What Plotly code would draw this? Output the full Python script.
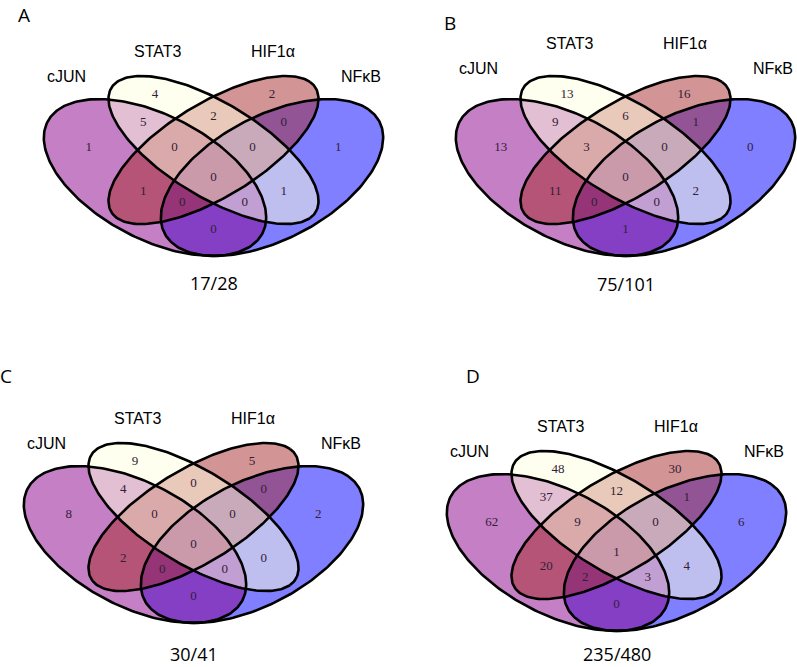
import numpy as np
import plotly.graph_objects as go

# ---------------- data ----------------
SET_NAMES = ["cJUN", "STAT3", "HIF1α", "NFκB"]
PANEL_LETTERS = ["A", "B", "C", "D"]
# region order: c, s, h, n, cs, sh, hn, csh, shn, cshn, ch, sn, chn, csn, cn
REGION_KEYS = ["c", "s", "h", "n", "cs", "sh", "hn", "csh", "shn", "cshn",
               "ch", "sn", "chn", "csn", "cn"]
COUNTS_A = [1, 4, 2, 1, 5, 2, 0, 0, 0, 0, 1, 1, 0, 0, 0]
COUNTS_B = [13, 13, 16, 0, 9, 6, 1, 3, 0, 0, 11, 2, 0, 0, 1]
COUNTS_C = [8, 9, 5, 2, 4, 0, 0, 0, 0, 0, 2, 0, 0, 0, 0]
COUNTS_D = [62, 48, 30, 6, 37, 12, 1, 9, 0, 1, 20, 4, 2, 3, 0]
TOTALS = [28, 101, 41, 480]
PANEL_COUNTS = [COUNTS_A, COUNTS_B, COUNTS_C, COUNTS_D]

# ---------------- layout constants (VennDiagram quad geometry, unit coords) ----------------
# ellipse: (cx, cy, a, b, rotation_deg)
ELLIPSES = {
    "c": (0.35, 0.47, 0.35, 0.20, -45),
    "s": (0.50, 0.57, 0.35, 0.15, -45),
    "h": (0.50, 0.57, 0.35, 0.15, 45),
    "n": (0.65, 0.47, 0.35, 0.20, 45),
}
FILL = {
    "c": "rgba(139,0,139,0.5)",
    "s": "rgba(255,255,224,0.5)",
    "h": "rgba(165,42,42,0.5)",
    "n": "rgba(0,0,255,0.5)",
}
DRAW_ORDER = ["n", "c", "h", "s"]
LABEL_POS = {
    "c": (0.18, 0.58), "s": (0.35, 0.77), "h": (0.65, 0.77), "n": (0.82, 0.58),
    "cs": (0.32, 0.67), "sh": (0.50, 0.69), "hn": (0.68, 0.67),
    "csh": (0.40, 0.58), "shn": (0.60, 0.58), "cshn": (0.50, 0.47),
    "ch": (0.32, 0.42), "sn": (0.68, 0.42), "chn": (0.42, 0.38),
    "csn": (0.58, 0.38), "cn": (0.50, 0.28),
}
SET_LABEL_POS = [(0.122, 0.839), (0.358, 0.930), (0.653, 0.930), (0.878, 0.839)]
SET_LABEL_DY = [0.0, 0.029, 0.0, 0.0]
FRACTION_Y = [0.086, 0.083, 0.072, 0.101]

W, H = 797, 667
SX, SY = 390.0, 275.0  # px per unit
# (px of unit x=0, px of unit y=0) and panel box (L, R, T, B) in px
PANEL_ORIGIN = [(18.5, 306.75), (430.5, 306.75), (-1.5, 673.75), (421.5, 681.75)]
PANEL_BOX = [(0, 398, 0, 333), (398, 797, 0, 333), (0, 398, 333, 667), (398, 797, 333, 667)]
LETTER_PX = [(23.5, 0), (450, 8), (6, 361), (473, 361)]  # top of text box


def ellipse_xy(cx, cy, a, b, rot, n=240):
    t = np.linspace(0, 2 * np.pi, n)
    r = np.deg2rad(rot)
    x = cx + a * np.cos(t) * np.cos(r) - b * np.sin(t) * np.sin(r)
    y = cy + a * np.cos(t) * np.sin(r) + b * np.sin(t) * np.cos(r)
    return x, y


fig = go.Figure()
annotations = []
layout_axes = {}

for i in range(4):
    sfx = "" if i == 0 else str(i + 1)
    xa, ya = "x" + sfx, "y" + sfx
    x0, y0 = PANEL_ORIGIN[i]
    L, R, T, B = PANEL_BOX[i]
    layout_axes["xaxis" + sfx] = dict(
        domain=[L / W, R / W], range=[(L - x0) / SX, (R - x0) / SX],
        visible=False, fixedrange=True, anchor=ya)
    layout_axes["yaxis" + sfx] = dict(
        domain=[1 - B / H, 1 - T / H], range=[(y0 - B) / SY, (y0 - T) / SY],
        visible=False, fixedrange=True, anchor=xa)

    # fills
    for k in DRAW_ORDER:
        ex, ey = ellipse_xy(*ELLIPSES[k])
        fig.add_trace(go.Scatter(x=ex, y=ey, mode="lines", fill="toself",
                                 fillcolor=FILL[k], line=dict(width=0, color="rgba(0,0,0,0)"),
                                 hoverinfo="skip", showlegend=False, xaxis=xa, yaxis=ya))
    # outlines
    for k in DRAW_ORDER:
        ex, ey = ellipse_xy(*ELLIPSES[k])
        fig.add_trace(go.Scatter(x=ex, y=ey, mode="lines",
                                 line=dict(width=2.6, color="black"),
                                 hoverinfo="skip", showlegend=False, xaxis=xa, yaxis=ya))
    # region counts
    counts = PANEL_COUNTS[i]
    fig.add_trace(go.Scatter(
        x=[LABEL_POS[k][0] for k in REGION_KEYS],
        y=[LABEL_POS[k][1] for k in REGION_KEYS],
        mode="text", text=[str(v) for v in counts],
        textfont=dict(family="Liberation Serif, Times New Roman, serif", size=13,
                      color="rgb(50,32,55)"),
        textposition="middle center", cliponaxis=False,
        hoverinfo="skip", showlegend=False, xaxis=xa, yaxis=ya))

    # set labels
    for name, (lx, ly) in zip(SET_NAMES, SET_LABEL_POS):
        annotations.append(dict(x=lx, y=ly + SET_LABEL_DY[i], xref=xa, yref=ya, text=name,
                                showarrow=False, xanchor="center", yanchor="middle",
                                font=dict(family="Liberation Sans, Arial, sans-serif",
                                          size=16, color="black")))
    # fraction
    annotations.append(dict(x=0.5, y=FRACTION_Y[i], xref=xa, yref=ya,
                            text=f"{sum(counts)}/{TOTALS[i]}",
                            showarrow=False, xanchor="center", yanchor="middle",
                            font=dict(family="Open Sans, sans-serif", size=18, color="black")))
    # panel letter
    lx, ly = LETTER_PX[i]
    annotations.append(dict(x=lx / W, y=1 - ly / H, xref="paper", yref="paper",
                            text=PANEL_LETTERS[i], showarrow=False,
                            xanchor="center", yanchor="top",
                            font=dict(family="Open Sans, sans-serif", size=19, color="black")))

fig.update_layout(
    width=W, height=H, margin=dict(l=0, r=0, t=0, b=0),
    paper_bgcolor="white", plot_bgcolor="rgba(0,0,0,0)",
    annotations=annotations, **layout_axes)

fig.write_html("out.html", config={"displayModeBar": False},
               post_script="document.body.style.margin='0';document.body.style.overflow='hidden';")
